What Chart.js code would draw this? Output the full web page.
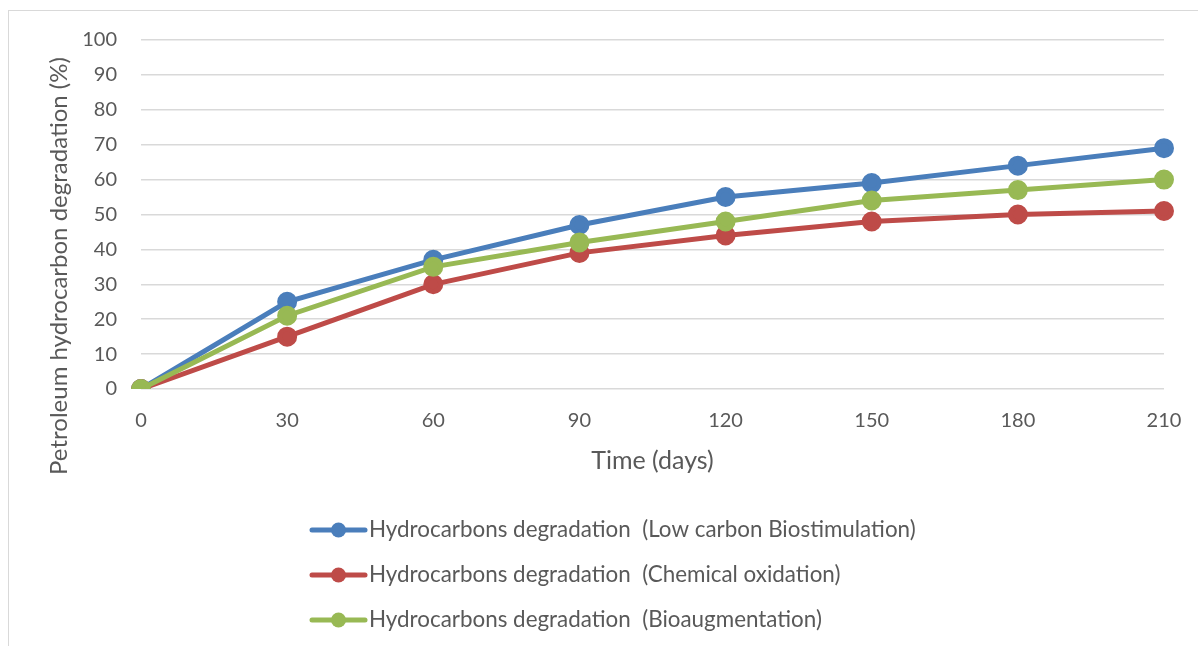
<!DOCTYPE html>
<html>
<head>
<meta charset="utf-8">
<script src="https://cdn.jsdelivr.net/npm/chart.js@4/dist/chart.umd.min.js"></script>
<style>
  html, body { margin: 0; padding: 0; background: #ffffff; }
  #wrap { width: 1198px; height: 646px; position: relative; }
</style>
</head>
<body>
<div id="wrap"><canvas id="c" width="1198" height="646"></canvas></div>
<script>
// Sampling days and degradation (%) for each treatment
const days = [0, 30, 60, 90, 120, 150, 180, 210];
const lowCarbonBiostimulation = [0, 25, 37, 47, 55, 59, 64, 69];
const chemicalOxidation = [0, 15, 30, 39, 44, 48, 50, 51];
const bioaugmentation = [0, 21, 35, 42, 48, 54, 57, 60];

const seriesNames = [
  'Hydrocarbons degradation  (Low carbon Biostimulation)',
  'Hydrocarbons degradation  (Chemical oxidation)',
  'Hydrocarbons degradation  (Bioaugmentation)'
];
const yTicks = [0, 10, 20, 30, 40, 50, 60, 70, 80, 90, 100];
const xTitle = 'Time (days)';
const yTitle = 'Petroleum hydrocarbon degradation (%)';

const colors = ['#4A7EBB', '#BE4B48', '#98B954'];
const FONT = 'Lato, "Open Sans", sans-serif';
const TEXT = '#595959';

function series(label, data, color, order) {
  return {
    label, data, order,
    borderColor: color,
    backgroundColor: color,
    pointBackgroundColor: color,
    pointBorderColor: color,
    borderWidth: 5,
    pointRadius: 7.5,
    pointHoverRadius: 7.5,
    tension: 0
  };
}

// Frame, axis titles and a stacked legend drawn on the canvas
const decorations = {
  id: 'decorations',
  beforeDraw(chart) {
    const ctx = chart.ctx;
    ctx.save();
    ctx.fillStyle = '#ffffff';
    ctx.fillRect(0, 0, chart.width, chart.height);
    ctx.strokeStyle = '#d9d9d9';
    ctx.lineWidth = 1;
    ctx.strokeRect(8.5, 10.5, 1400, 700);
    ctx.restore();
  },
  afterDraw(chart) {
    const ctx = chart.ctx;
    const area = chart.chartArea;
    ctx.save();
    ctx.fillStyle = TEXT;
    ctx.font = '25px ' + FONT;
    ctx.textAlign = 'center';
    ctx.textBaseline = 'middle';
    ctx.fillText(xTitle, (area.left + area.right) / 2, 461);
    ctx.font = '24px ' + FONT;
    ctx.translate(59, 266);
    ctx.rotate(-Math.PI / 2);
    ctx.fillText(yTitle, 0, 0);
    ctx.restore();

    // Legend: one row per dataset
    ctx.save();
    ctx.font = '22.4px ' + FONT;
    ctx.textBaseline = 'middle';
    ctx.textAlign = 'left';
    chart.data.datasets.forEach((ds, i) => {
      const y = 530 + i * 45;
      ctx.strokeStyle = ds.borderColor;
      ctx.lineWidth = 5;
      ctx.lineCap = 'round';
      ctx.beginPath();
      ctx.moveTo(312, y);
      ctx.lineTo(365, y);
      ctx.stroke();
      ctx.fillStyle = ds.borderColor;
      ctx.beginPath();
      ctx.arc(338.5, y, 7.5, 0, Math.PI * 2);
      ctx.fill();
      ctx.fillStyle = TEXT;
      ctx.fillText(ds.label, 369, y);
    });
    ctx.restore();
  }
};

new Chart(document.getElementById('c'), {
  type: 'line',
  data: {
    labels: days,
    datasets: [
      series(seriesNames[0], lowCarbonBiostimulation, colors[0], 3),
      series(seriesNames[1], chemicalOxidation, colors[1], 2),
      series(seriesNames[2], bioaugmentation, colors[2], 1)
    ]
  },
  options: {
    responsive: false,
    animation: false,
    layout: { padding: { left: 0, top: 40, right: 34, bottom: 0 } },
    plugins: { legend: { display: false }, tooltip: { enabled: false } },
    scales: {
      x: {
        type: 'category',
        offset: false,
        grid: { display: false, drawTicks: false },
        border: { display: false },
        ticks: { color: TEXT, font: { family: FONT, size: 20 }, padding: 20, maxRotation: 0 },
        afterFit(scale) {
          scale.height = 646 - 389;
          scale.paddingLeft = 0;
          scale.paddingRight = 0;
        }
      },
      y: {
        min: 0, max: 100,
        afterBuildTicks(scale) { scale.ticks = yTicks.map(v => ({ value: v })); },
        grid: { color: '#d9d9d9', lineWidth: 1.5, drawTicks: false },
        border: { display: false },
        ticks: { color: TEXT, font: { family: FONT, size: 20 }, padding: 24 },
        afterFit(scale) {
          scale.width = 141;
          scale.paddingTop = 0;
          scale.paddingBottom = 0;
        }
      }
    }
  },
  plugins: [decorations]
});
</script>
</body>
</html>
